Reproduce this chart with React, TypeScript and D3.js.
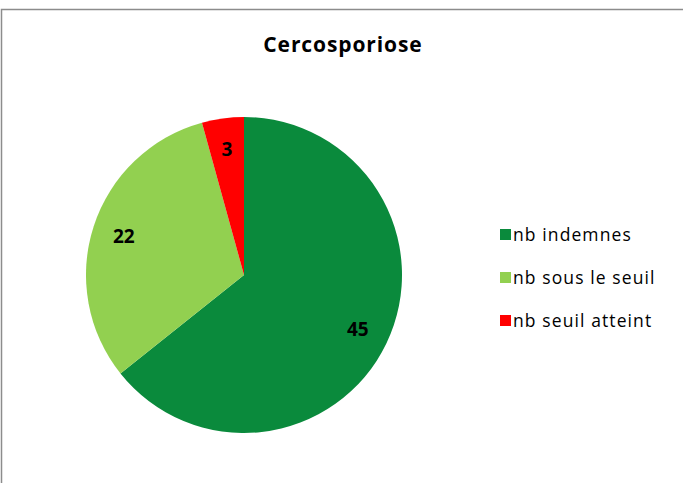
import React from 'react';
import * as d3 from 'd3';

const WIDTH = 683;
const HEIGHT = 483;

const TITLE = 'Cercosporiose';
const categories = ['nb indemnes', 'nb sous le seuil', 'nb seuil atteint'];
const values = [45, 22, 3];
const colors = ['#0A8A3C', '#92D050', '#FF0000'];

const FONT = '"Open Sans", "DejaVu Sans", sans-serif';

const App = () => {
  const cx = 244;
  const cy = 275;
  const radius = 158;

  const pie = d3.pie<number>().sort(null).value(d => d);
  const arcs = pie(values);

  const arcGen = d3.arc<d3.PieArcDatum<number>>()
    .innerRadius(0)
    .outerRadius(radius);

  const labelArc = d3.arc<d3.PieArcDatum<number>>()
    .innerRadius(radius * 0.8)
    .outerRadius(radius * 0.8);

  const legendY = d3.scalePoint<string>()
    .domain(categories)
    .range([235, 321]);

  return (
    <svg width={WIDTH} height={HEIGHT}
      style={{ position: 'absolute', left: 0, top: 0, background: '#fff' }}>
      <rect x={1.5} y={9.5} width={WIDTH + 10} height={HEIGHT + 10}
        fill='#fff' stroke='#8c8c8c' strokeWidth='1.5' />

      <text x={343} y={52} textAnchor='middle' fontFamily={FONT}
        fontWeight='bold' fontSize='21px' letterSpacing='0.9px' fill='#000'>{TITLE}</text>

      <g transform={`translate(${cx},${cy})`}>
        {arcs.map((a, i) => (
          <path key={categories[i]} d={arcGen(a) || ''} fill={colors[i]} />
        ))}
        {arcs.map((a, i) => {
          const [x, y] = labelArc.centroid(a);
          return (
            <text key={'l' + i} x={x} y={y} dy='0.35em' textAnchor='middle'
              fontFamily={FONT} fontWeight='bold' fontSize='19px' fill='#000'>
              {values[i]}
            </text>
          );
        })}
      </g>

      <g>
        {categories.map((c, i) => (
          <g key={c} transform={`translate(500,${legendY(c)})`}>
            <rect x={0} y={-6} width={11} height={11} fill={colors[i]} />
            <text x={13} y={0} dy='0.35em' fontFamily={FONT} fontSize='17.5px'
              letterSpacing='1.1px' fill='#000'>{c}</text>
          </g>
        ))}
      </g>
    </svg>
  );
};

export default App;
